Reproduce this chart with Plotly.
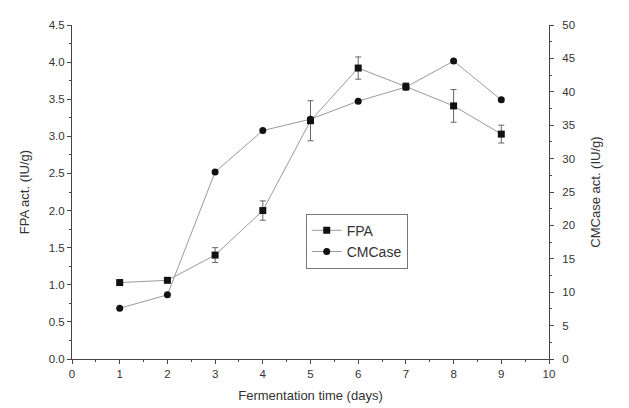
import plotly.graph_objects as go

days = [1, 2, 3, 4, 5, 6, 7, 8, 9]
fpa = [1.03, 1.06, 1.40, 2.00, 3.21, 3.92, 3.67, 3.41, 3.03]
fpa_err = [0.03, 0.03, 0.10, 0.13, 0.27, 0.15, 0.05, 0.22, 0.12]
cmcase = [7.6, 9.6, 28.0, 34.2, 35.9, 38.6, 40.7, 44.6, 38.8]

x_ticks = list(range(0, 11))
left_ticks = [0, 0.5, 1.0, 1.5, 2.0, 2.5, 3.0, 3.5, 4.0, 4.5]
right_ticks = list(range(0, 55, 5))

font = "Liberation Sans, Arial, sans-serif"
line_col = "#9a9a9a"

fig = go.Figure()
fig.add_trace(go.Scatter(
    x=days, y=fpa, name="FPA", mode="lines+markers",
    line=dict(color=line_col, width=1),
    marker=dict(symbol="square", size=7, color="#111111"),
    error_y=dict(type="data", array=fpa_err, visible=True, color="#666666", thickness=1, width=3),
    yaxis="y"))
fig.add_trace(go.Scatter(
    x=days, y=cmcase, name="CMCase", mode="lines+markers",
    line=dict(color=line_col, width=1),
    marker=dict(symbol="circle", size=7, color="#111111"),
    yaxis="y2"))

axis_common = dict(showgrid=False, zeroline=False, showline=True, linecolor="#444444", linewidth=1,
                   ticks="outside", ticklen=4, tickcolor="#444444", automargin=False,
                   tickfont=dict(family=font, size=11.5, color="#333333"))

fig.update_layout(
    width=629, height=408,
    margin=dict(l=72, r=80, t=25, b=49),
    paper_bgcolor="white", plot_bgcolor="white",
    font=dict(family=font, color="#333333"),
    showlegend=True,
    legend=dict(x=0.49, y=0.435, xanchor="left", yanchor="top",
                bordercolor="#777777", borderwidth=1, bgcolor="white",
                font=dict(family=font, size=14, color="#333333"),
                itemwidth=30, tracegroupgap=0),
    xaxis=dict(range=[0, 10], tickvals=x_ticks, ticktext=[str(v) for v in x_ticks],
               title=dict(text="Fermentation time (days)", font=dict(family=font, size=13, color="#333333"), standoff=12),
               minor=dict(dtick=0.5, ticks="outside", ticklen=2, tickcolor="#444444"),
               **axis_common),
    yaxis=dict(range=[0, 4.5], tickvals=left_ticks, ticktext=[f"{v:.1f}" for v in left_ticks],
               title=dict(text="FPA act. (IU/g)", font=dict(family=font, size=13, color="#333333"), standoff=16),
               minor=dict(dtick=0.25, ticks="outside", ticklen=2, tickcolor="#444444"),
               **axis_common),
    yaxis2=dict(range=[0, 50], tickvals=right_ticks, ticktext=[str(v) for v in right_ticks],
                overlaying="y", side="right", ticklabelstandoff=6,
                title=dict(text="CMCase act. (IU/g)", font=dict(family=font, size=13, color="#333333"), standoff=16),
                minor=dict(dtick=2.5, ticks="outside", ticklen=2, tickcolor="#444444"),
                **axis_common),
)

fig.write_html("out.html")
